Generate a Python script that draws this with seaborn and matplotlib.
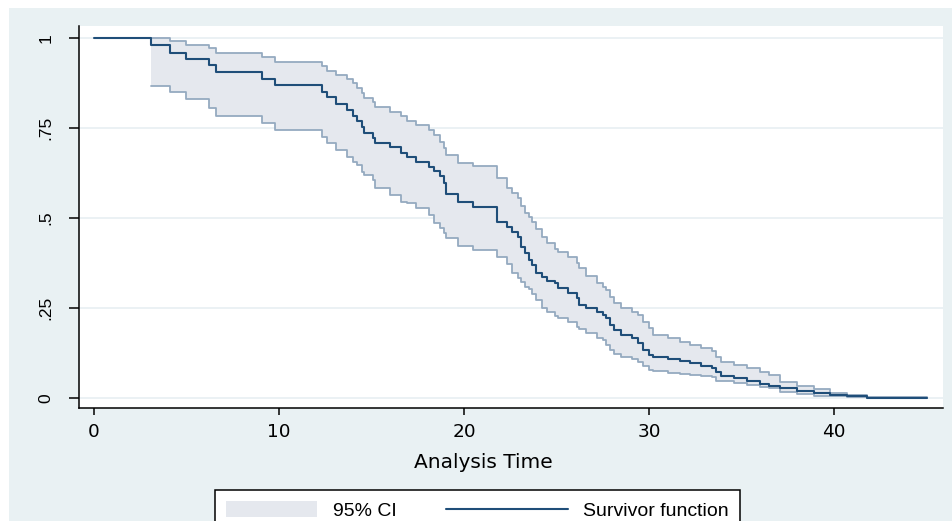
import matplotlib
matplotlib.use("Agg")
import matplotlib.pyplot as plt
from matplotlib.patches import Rectangle, Patch
from matplotlib.lines import Line2D
from matplotlib.legend_handler import HandlerBase
import seaborn as sns
import pandas as pd

# ---- data ----
time = [3.1, 4.1, 5.0, 6.2, 6.6, 9.1, 9.8, 12.3, 12.6, 13.1, 13.7, 14.0, 14.2, 14.5, 14.6,
        15.1, 15.2, 16.0, 16.6, 16.9, 17.4, 18.1, 18.4, 18.7, 18.9, 19.0, 19.7, 20.5, 21.8,
        22.3, 22.6, 22.9, 23.1, 23.3, 23.5, 23.7, 23.9, 24.2, 24.5, 24.9, 25.1, 25.6, 26.1,
        26.2, 26.6, 27.2, 27.5, 27.7, 27.9, 28.1, 28.5, 29.1, 29.4, 29.7, 30.0, 30.2, 31.0,
        31.7, 32.2, 32.8, 33.4, 33.6, 33.9, 34.6, 35.3, 36.0, 36.5, 37.1, 38.0, 38.9, 39.8,
        40.7, 41.8, 45.0]
survival = [0.981, 0.959, 0.940, 0.925, 0.904, 0.886, 0.868, 0.851, 0.835, 0.816, 0.800, 0.783,
            0.768, 0.752, 0.737, 0.721, 0.709, 0.696, 0.681, 0.670, 0.656, 0.641, 0.629, 0.615,
            0.596, 0.567, 0.543, 0.531, 0.490, 0.476, 0.462, 0.448, 0.420, 0.402, 0.383, 0.369,
            0.346, 0.337, 0.325, 0.319, 0.305, 0.292, 0.277, 0.258, 0.249, 0.240, 0.231, 0.221,
            0.203, 0.189, 0.175, 0.166, 0.152, 0.133, 0.119, 0.113, 0.108, 0.103, 0.097, 0.089,
            0.083, 0.073, 0.061, 0.055, 0.047, 0.039, 0.033, 0.027, 0.020, 0.013, 0.008, 0.004,
            0.001, 0.0]
upper = [1.0, 0.990, 0.981, 0.971, 0.959, 0.946, 0.934, 0.922, 0.909, 0.897, 0.885, 0.874,
         0.860, 0.848, 0.833, 0.823, 0.809, 0.795, 0.783, 0.770, 0.758, 0.744, 0.731, 0.712,
         0.694, 0.675, 0.652, 0.643, 0.611, 0.583, 0.569, 0.556, 0.533, 0.513, 0.503, 0.489,
         0.469, 0.447, 0.431, 0.414, 0.406, 0.392, 0.375, 0.360, 0.340, 0.319, 0.309, 0.300,
         0.281, 0.263, 0.249, 0.240, 0.231, 0.212, 0.194, 0.175, 0.166, 0.156, 0.147, 0.138,
         0.129, 0.115, 0.101, 0.092, 0.083, 0.073, 0.064, 0.045, 0.033, 0.024, 0.015, 0.008,
         0.002, 0.0]
lower = [0.865, 0.851, 0.829, 0.806, 0.783, 0.763, 0.744, 0.726, 0.708, 0.688, 0.670, 0.656,
         0.647, 0.628, 0.619, 0.606, 0.583, 0.564, 0.545, 0.541, 0.527, 0.508, 0.485, 0.471,
         0.458, 0.444, 0.421, 0.411, 0.392, 0.372, 0.346, 0.333, 0.323, 0.309, 0.303, 0.289,
         0.272, 0.250, 0.239, 0.228, 0.221, 0.212, 0.198, 0.192, 0.181, 0.167, 0.161, 0.147,
         0.133, 0.122, 0.113, 0.108, 0.100, 0.089, 0.078, 0.076, 0.070, 0.067, 0.064, 0.061,
         0.058, 0.048, 0.046, 0.041, 0.036, 0.031, 0.027, 0.017, 0.010, 0.006, 0.004, 0.002,
         0.001, 0.0]
start_time = 0.0
start_surv = 1.0
x_ticks = [0, 10, 20, 30, 40]
y_ticks = [0, 0.25, 0.5, 0.75, 1]
y_tick_labels = ["0", ".25", ".5", ".75", "1"]
x_label = "Analysis Time"
legend_labels = ["95% CI", "Survivor function"]

assert len(time) == len(survival) == len(upper) == len(lower)

sf = pd.DataFrame({"t": [start_time] + time, "s": [start_surv] + survival})
ci = pd.DataFrame({"t": time, "lo": lower, "hi": upper})

# ---- style ----
sns.set_theme(style="white")
plt.rcParams["font.family"] = ["Liberation Sans", "DejaVu Sans"]
plt.rcParams["text.color"] = "black"
plt.rcParams["xtick.color"] = "black"
plt.rcParams["ytick.color"] = "black"
plt.rcParams["axes.labelcolor"] = "black"

BG = "#E9F1F3"
NAVY = "#1F4E79"
FILL = "#E5E8EE"
EDGE = "#95AAC0"
GRID = "#E8EFF2"

W, H = 953, 521
fig = plt.figure(figsize=(W / 100, H / 100), dpi=100)
fig.patch.set_facecolor("white")
fig.patches.append(Rectangle((9 / W, 0), (W - 9) / W, 1 - 8 / H, transform=fig.transFigure,
                             facecolor=BG, edgecolor="none", zorder=-10))

ax = fig.add_axes([79 / W, 1 - 408 / H, 864 / W, 382 / H])
ax.set_facecolor("white")

ax.fill_between(ci["t"], ci["lo"], ci["hi"], step="post", color=FILL, lw=0, zorder=1)
sns.lineplot(data=ci, x="t", y="hi", ax=ax, drawstyle="steps-post", color=EDGE, lw=1.3,
             estimator=None, sort=False, zorder=2)
sns.lineplot(data=ci, x="t", y="lo", ax=ax, drawstyle="steps-post", color=EDGE, lw=1.3,
             estimator=None, sort=False, zorder=2)
sns.lineplot(data=sf, x="t", y="s", ax=ax, drawstyle="steps-post", color=NAVY, lw=1.5,
             estimator=None, sort=False, zorder=3)

ax.set_xlim(-0.81, 45.89)
ax.set_ylim(-0.028, 1.033)
ax.set_xticks(x_ticks)
ax.set_xticklabels([str(v) for v in x_ticks], fontfamily="DejaVu Sans", fontsize=13.3)
ax.set_yticks(y_ticks)
ax.set_yticklabels(y_tick_labels, rotation=90, va="center", fontsize=12.5)
for y in y_ticks:
    ax.axhline(y, color=GRID, lw=1.2, zorder=0)

for side in ["top", "right"]:
    ax.spines[side].set_visible(False)
for side in ["left", "bottom"]:
    ax.spines[side].set_color("black")
    ax.spines[side].set_linewidth(1.1)

ax.tick_params(axis="x", direction="out", length=5.2, width=1.1, color="black",
               pad=5.5, bottom=True)
ax.tick_params(axis="y", direction="out", length=7.5, width=1.1, color="black",
               pad=11, left=True)
ax.set_ylabel("")
ax.set_xlabel(x_label, fontsize=14.5, fontfamily="DejaVu Sans")
ax.xaxis.set_label_coords((483 - 79) / 864, -(463 - 408) / 382)
ax.xaxis.label.set_va("center")


class WideLineHandler(HandlerBase):
    """Draws the legend line wider than the handle box (Stata-style key)."""
    def create_artists(self, legend, orig_handle, xdescent, ydescent, width, height,
                       fontsize, trans):
        y = height / 2.0 - ydescent
        ln = Line2D([-xdescent - 0.33 * width, -xdescent + width], [y, y],
                    color=orig_handle.get_color(), lw=orig_handle.get_linewidth(),
                    transform=trans)
        return [ln]


line_handle = Line2D([0], [0], color=NAVY, lw=1.5)
handles = [Patch(facecolor=FILL, edgecolor="none"), line_handle]
leg = fig.legend(handles, legend_labels, loc="upper center",
                 bbox_to_anchor=(477.5 / W, 1 - 490 / H), ncol=2, frameon=True,
                 fancybox=False, edgecolor="black", framealpha=1, facecolor="white",
                 borderaxespad=0, fontsize=14, handlelength=4.7, handleheight=0.95,
                 handletextpad=0.8, columnspacing=4.1, borderpad=0.55,
                 handler_map={line_handle: WideLineHandler()})
leg.get_frame().set_linewidth(1.1)

fig.savefig("out.png", dpi=100)
